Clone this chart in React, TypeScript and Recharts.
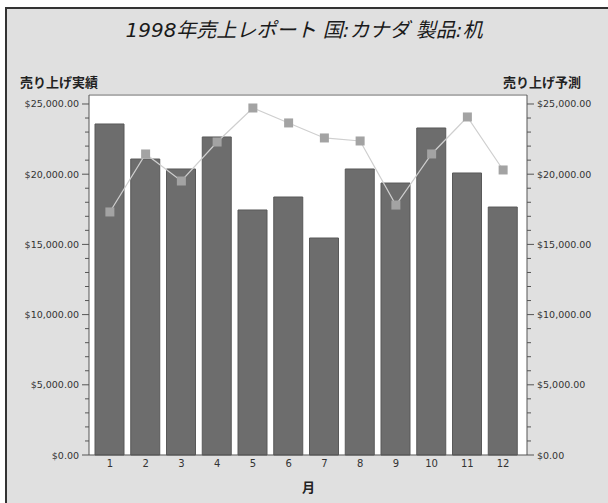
import {
  ComposedChart,
  Bar,
  Line,
  XAxis,
  YAxis,
  CartesianGrid,
  ReferenceLine,
} from "recharts";

const months = ["1", "2", "3", "4", "5", "6", "7", "8", "9", "10", "11", "12"];
const actualSales = [23575, 21080, 20370, 22650, 17450, 18375, 15455, 20370, 19370, 23290, 20085, 17660];
const forecastSales = [17310, 21440, 19515, 22290, 24715, 23650, 22580, 22365, 17800, 21440, 24075, 20300];
const yTicks = [
  0, 1000, 2000, 3000, 4000, 5000, 6000, 7000, 8000, 9000, 10000, 11000, 12000,
  13000, 14000, 15000, 16000, 17000, 18000, 19000, 20000, 21000, 22000, 23000,
  24000, 25000,
];
const yMax = 25640;

const data = months.map((m, i) => ({
  month: m,
  actual: actualSales[i],
  forecast: forecastSales[i],
}));

const fmt = (v: number) =>
  "$" + v.toLocaleString("en-US", { minimumFractionDigits: 2, maximumFractionDigits: 2 });

const FONT = "'DejaVu Sans', 'Noto Sans CJK JP', sans-serif";

function AxisTick({ x, y, payload, side }: any) {
  const v = payload.value as number;
  const major = v % 5000 === 0;
  const dir = side === "left" ? -1 : 1;
  const len = major ? 7 : 4;
  return (
    <g>
      <line x1={x} x2={x + dir * len} y1={y} y2={y} stroke="#555" strokeWidth={1} />
      {major && (
        <text
          x={x + dir * 10}
          y={y}
          dy={3.5}
          textAnchor={side === "left" ? "end" : "start"}
          fontSize={9.5}
          fontFamily={FONT}
          fill="#333"
        >
          {fmt(v)}
        </text>
      )}
    </g>
  );
}

function SquareDot({ cx, cy, index }: any) {
  return <rect key={"d" + index} x={cx - 4.5} y={cy - 4.5} width={9} height={9} fill="#a3a3a3" />;
}

const axisTitle = {
  position: "absolute" as const,
  top: 76,
  fontFamily: FONT,
  fontWeight: "bold" as const,
  fontSize: 13,
  lineHeight: 1,
  color: "#222",
};

export default function App() {
  return (
    <div style={{ position: "absolute", left: 0, top: 0, width: 608, height: 503, background: "#fff" }}>
      <div
        style={{
          position: "absolute",
          left: 5,
          top: 7,
          width: 603,
          height: 496,
          boxSizing: "border-box",
          background: "#e0e0e0",
          borderLeft: "2px solid #333",
          borderTop: "2px solid #333",
        }}
      />
      <div
        style={{
          position: "absolute",
          left: 0,
          top: 20,
          width: 608,
          textAlign: "center",
          fontFamily: FONT,
          fontStyle: "italic",
          fontSize: 20,
          lineHeight: 1,
          color: "#1a1a1a",
        }}
      >
        1998年売上レポート 国:カナダ 製品:机
      </div>
      <div style={{ ...axisTitle, left: 20 }}>売り上げ実績</div>
      <div style={{ ...axisTitle, left: 503 }}>売り上げ予測</div>
      <div
        style={{ position: "absolute", left: 302, top: 481, fontFamily: FONT, fontWeight: "bold", fontSize: 13, lineHeight: 1, color: "#222" }}
      >
        月
      </div>
      <div style={{ position: "absolute", left: 0, top: 0 }}>
        <ComposedChart
          width={608}
          height={503}
          data={data}
          margin={{ top: 95, right: 0, left: 0, bottom: 18 }}
          barSize={29}
        >
          <CartesianGrid horizontal={false} vertical={false} fill="#fff" />
          <XAxis
            dataKey="month"
            padding={{ left: 3, right: 6 }}
            height={30}
            tickLine={false}
            tickSize={0}
            tickMargin={5}
            axisLine={{ stroke: "#555" }}
            tick={{ fontSize: 10, fill: "#333", fontFamily: FONT }}
          />
          <YAxis
            yAxisId="left"
            orientation="left"
            width={89}
            domain={[0, yMax]}
            ticks={yTicks}
            interval={0}
            tickLine={false}
            tickSize={0}
            tickMargin={0}
            axisLine={{ stroke: "#555" }}
            tick={(p: any) => <AxisTick {...p} side="left" />}
          />
          <YAxis
            yAxisId="right"
            orientation="right"
            width={81}
            domain={[0, yMax]}
            ticks={yTicks}
            interval={0}
            tickLine={false}
            tickSize={0}
            tickMargin={0}
            axisLine={{ stroke: "#555" }}
            tick={(p: any) => <AxisTick {...p} side="right" />}
          />
          <ReferenceLine yAxisId="left" y={yMax} stroke="#b0b0b0" strokeWidth={2} />
          <Bar
            yAxisId="left"
            dataKey="actual"
            fill="#6d6d6d"
            stroke="#595959"
            strokeWidth={1}
            isAnimationActive={false}
          />
          <Line
            yAxisId="right"
            dataKey="forecast"
            type="linear"
            stroke="#cfcfcf"
            strokeWidth={1.2}
            dot={SquareDot}
            activeDot={false}
            isAnimationActive={false}
          />
        </ComposedChart>
      </div>
    </div>
  );
}
